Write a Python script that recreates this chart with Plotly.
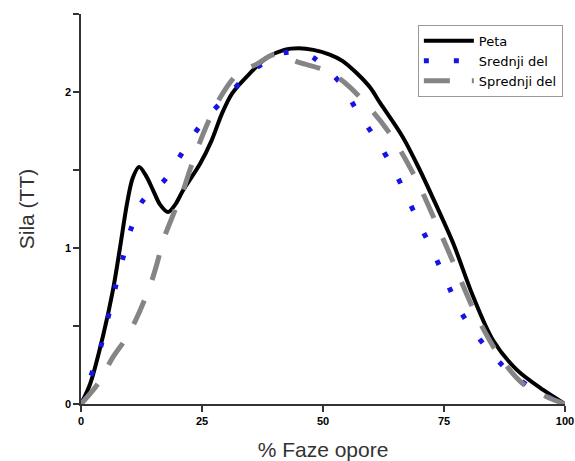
import plotly.graph_objects as go

peta_x = [0, 1.9, 4.5, 6.6, 8, 9.6, 10.7, 12, 13.3, 14.9, 16.3, 18, 19.5, 21.1, 24.6, 27, 29.1, 31.2, 34.9, 38.4, 42, 45, 48, 51.4, 54, 57, 59.7, 61.8, 66.5, 70, 73.6, 76.9, 81, 85.1, 90, 95.5, 100]
peta_y = [0, 0.13, 0.43, 0.73, 0.99, 1.3, 1.45, 1.52, 1.47, 1.37, 1.28, 1.23, 1.28, 1.37, 1.54, 1.69, 1.86, 1.99, 2.12, 2.22, 2.27, 2.28, 2.27, 2.24, 2.2, 2.12, 2.03, 1.93, 1.71, 1.5, 1.26, 1.03, 0.69, 0.41, 0.22, 0.09, 0]

sred_x = [0, 2.5, 4.3, 5.8, 7.2, 8.7, 10.3, 12.7, 17.4, 21.1, 25, 30.1, 35.6, 41.7, 45, 48, 53.5, 57.2, 61.1, 64.5, 67.3, 70, 72.8, 75.6, 78.3, 82, 87, 93.2, 100]
sred_y = [0, 0.22, 0.39, 0.58, 0.76, 0.94, 1.12, 1.30, 1.44, 1.62, 1.80, 1.97, 2.14, 2.25, 2.25, 2.22, 2.06, 1.87, 1.69, 1.51, 1.33, 1.15, 0.97, 0.78, 0.60, 0.43, 0.25, 0.1, 0]

spred_x = [0, 3.5, 6.6, 9.7, 12.2, 14.3, 15.7, 17, 19, 20.9, 22.5, 24.2, 26.3, 28.3, 32.2, 36.4, 40, 45, 51.2, 55.6, 63.2, 68.6, 73.1, 77.3, 81.8, 86.6, 91.3, 96, 100]
spred_y = [0, 0.13, 0.3, 0.44, 0.6, 0.76, 0.9, 1.05, 1.21, 1.35, 1.5, 1.65, 1.81, 1.94, 2.11, 2.18, 2.24, 2.19, 2.13, 2.03, 1.76, 1.48, 1.18, 0.88, 0.56, 0.3, 0.13, 0.05, 0]

names = ["Peta", "Srednji del", "Sprednji del"]

y_tickvals = [0, 0.5, 1, 1.5, 2, 2.5]
y_ticktext = ["0", "", "1", "", "2", ""]
x_tickvals = [0, 25, 50, 75, 100]

fig = go.Figure()
fig.add_trace(go.Scatter(x=peta_x, y=peta_y, name=names[0], mode="lines",
                         line=dict(color="black", width=4, shape="spline", smoothing=0.9)))
fig.add_trace(go.Scatter(x=sred_x, y=sred_y, name=names[1], mode="lines",
                         line=dict(color="#1414e6", width=5, dash="5px,25px", shape="spline", smoothing=0.9)))
fig.add_trace(go.Scatter(x=spred_x, y=spred_y, name=names[2], mode="lines",
                         line=dict(color="#858585", width=5, dash="26px,22px", shape="spline", smoothing=0.9)))

axis_font = dict(family="Liberation Sans", size=11, color="black", weight="bold")
title_font = dict(family="Liberation Sans", size=21, color="#333")

fig.update_layout(
    width=575, height=461,
    margin=dict(l=81, r=10, t=14, b=57, autoexpand=False),
    paper_bgcolor="white", plot_bgcolor="white",
    showlegend=True,
    legend=dict(x=0.696, y=0.972, xanchor="left", yanchor="top",
                bordercolor="#999999", borderwidth=1, bgcolor="white",
                font=dict(family="DejaVu Sans", size=13, color="black"),
                tracegroupgap=0, itemwidth=50),
    xaxis=dict(range=[0, 100], tickvals=x_tickvals, ticks="outside", ticklen=6,
               tickwidth=1.5, tickcolor="#333", showline=True, linecolor="#333", linewidth=1.5,
               showgrid=False, zeroline=False, automargin=False,
               tickfont=axis_font,
               title=dict(text="% Faze opore", font=title_font, standoff=20)),
    yaxis=dict(range=[0, 2.5], tickvals=y_tickvals, ticktext=y_ticktext, ticks="outside", ticklen=6,
               tickwidth=1.5, tickcolor="#333", showline=True, linecolor="#333", linewidth=1.5,
               showgrid=False, zeroline=False, automargin=False,
               tickfont=axis_font,
               title=dict(text="Sila (TT)", font=title_font, standoff=25)),
)

fig.write_html("out.html", config={"displayModeBar": False},
               post_script="document.body.style.margin='0';document.body.style.overflow='hidden';")
